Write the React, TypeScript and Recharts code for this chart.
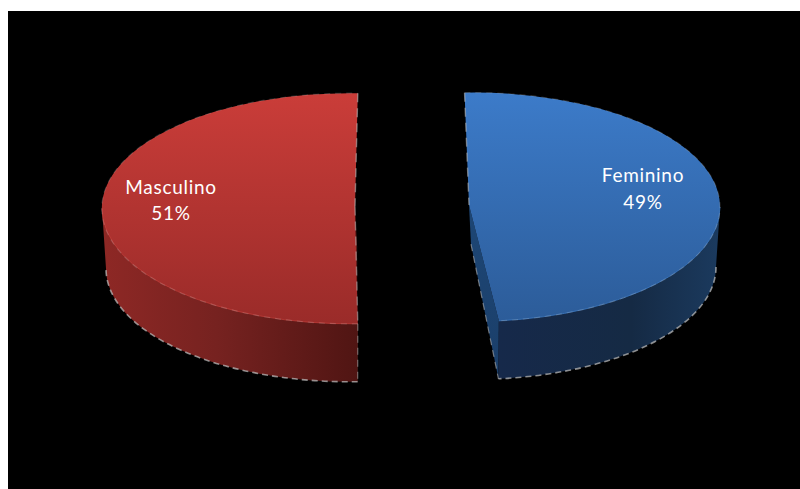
import React from 'react'
import { PieChart, Pie } from 'recharts'

const categories = ['Feminino', 'Masculino']
const shares = [49, 51]

const femininoData = [{ name: categories[0], value: shares[0] }]
const masculinoData = [{ name: categories[1], value: shares[1] }]

const DEGREES_PER_POINT = 3.6
// Each half of the exploded pie has its own rotation, the sweep comes from the share
const femininoStart = 92.2
const masculinoStart = -88.2

const TILT = 0.465
const DEPTH = 60
const WALL_SHRINK = 4

type Shade = { top: string; wall: string; face: string; rim: string; apexShift: number; lowerEdge: number }

const shades: Record<string, Shade> = {
  Feminino: { top: 'url(#femTop)', wall: 'url(#femWall)', face: 'url(#femFace)', rim: '#3f7cc4', apexShift: -5, lowerEdge: 0 },
  Masculino: { top: 'url(#mascTop)', wall: 'url(#mascWall)', face: '#5a1a17', rim: '#c43d39', apexShift: 5, lowerEdge: 0.5 },
}

const labelOffset: Record<string, { x: number; y: number }> = {
  Feminino: { x: 169, y: -25 },
  Masculino: { x: -179, y: -15 },
}

const rad = (a: number) => (a * Math.PI) / 180

const Slice3D = (props: any) => {
  const { cx, cy, outerRadius, startAngle, endAngle, payload } = props
  const name = payload?.name ?? props.name
  const shade = shades[name]
  const rx = outerRadius
  const ry = outerRadius * TILT
  const lrx = rx - WALL_SHRINK
  const lry = ry - 2
  const lcy = cy + DEPTH

  const top = (a: number) => [cx + rx * Math.cos(rad(a)), cy - ry * Math.sin(rad(a))]
  const low = (a: number) => [cx + lrx * Math.cos(rad(a)), lcy - lry * Math.sin(rad(a))]
  const pair = (p: number[]) => `${p[0].toFixed(2)} ${p[1].toFixed(2)}`

  const hi = Math.max(startAngle, endAngle)
  const lo = Math.min(startAngle, endAngle)
  const large = hi - lo > 180 ? 1 : 0

  // perspective pulls the apex towards the chord of the two straight edges
  const apexX = cx + shade.apexShift
  const apexTop = `${apexX} ${cy - 2}`

  // only the front half of the rim shows a wall
  const wallHi = Math.min(hi, 0)
  const wallLo = Math.max(lo, -180)
  const topArc = `M${pair(top(hi))} A${rx} ${ry} 0 ${large} 1 ${pair(top(lo))}`
  const lowArc = `M${pair(low(wallHi))} A${lrx} ${lry} 0 0 1 ${pair(low(wallLo))}`
  const wallPath =
    `M${pair(top(wallHi))} A${rx} ${ry} 0 0 1 ${pair(top(wallLo))} ` +
    `L${pair(low(wallLo))} A${lrx} ${lry} 0 0 0 ${pair(low(wallHi))} Z`
  const rimLine = `M${pair(top(wallHi))} A${rx} ${ry} 0 0 1 ${pair(top(wallLo))}`

  // cut face at whichever straight edge falls in the front half
  const cut = lo > -180 && lo < 0 ? lo : hi
  const back = cut === lo ? hi : lo
  const apexLow = [apexX + 2, cy + DEPTH * 0.62]
  const facePath = `M${apexTop} L${pair(top(cut))} L${pair(low(cut))} L${pair(apexLow)} Z`
  const backEdge = `M${pair(top(back))} L${apexTop}`
  const frontEdge = `M${apexTop} L${pair(top(cut))}`
  const cutEdge = `M${pair(apexLow)} L${pair(low(cut))}`
  const wallEdge = `M${pair(top(cut))} L${pair(low(cut))}`

  return (
    <g>
      <path d={facePath} fill={shade.face} />
      <path d={wallPath} fill={shade.wall} />
      <path d={`${topArc} L${apexTop} Z`} fill={shade.top} />
      <path d={rimLine} fill="none" stroke={shade.rim} strokeWidth={1} opacity={0.8} />
      <path d={lowArc} fill="none" stroke="#c4c4c4" strokeWidth={1.6} strokeDasharray="6 4" opacity={0.7} />
      <path d={topArc} fill="none" stroke="#c4c4c4" strokeWidth={1.2} strokeDasharray="6 5" opacity={0.22} />
      <path d={backEdge} fill="none" stroke="#c4c4c4" strokeWidth={1.4} strokeDasharray="9 6" opacity={0.55} />
      <path d={frontEdge} fill="none" stroke="#c4c4c4" strokeWidth={1.4} strokeDasharray="9 6" opacity={shade.lowerEdge} />
      <path d={wallEdge} fill="none" stroke="#c4c4c4" strokeWidth={1.2} strokeDasharray="7 5" opacity={shade.lowerEdge} />
      <path d={cutEdge} fill="none" stroke="#c4c4c4" strokeWidth={1.2} strokeDasharray="7 5" opacity={0.55 - shade.lowerEdge} />
    </g>
  )
}

const SliceLabel = (props: any) => {
  const { cx, cy, name, value } = props
  const off = labelOffset[name]
  const x = cx + off.x
  const y = cy + off.y
  return (
    <text
      x={x}
      y={y}
      textAnchor="middle"
      fill="#ffffff"
      fontFamily="Lato, sans-serif"
      fontSize={19}
      letterSpacing={0.7}
    >
      <tspan x={x}>{name}</tspan>
      <tspan x={x} dy={26.5}>{`${value}%`}</tspan>
    </text>
  )
}

export default function App() {
  return (
    <div style={{ position: 'absolute', left: 0, top: 0, width: 800, height: 489, background: '#ffffff', overflow: 'hidden' }}>
      <div style={{ position: 'absolute', left: 8, top: 11, right: 0, bottom: 0, background: '#000000' }} />
      <div style={{ position: 'absolute', left: 0, top: 0 }}>
        <PieChart width={800} height={489} margin={{ top: 0, right: 0, bottom: 0, left: 0 }}>
          <defs>
            <linearGradient id="mascTop" x1="0" y1="0" x2="0" y2="1">
              <stop offset="0%" stopColor="#ca3d39" />
              <stop offset="100%" stopColor="#9a2b29" />
            </linearGradient>
            <linearGradient id="mascWall" x1="0" y1="0" x2="1" y2="0">
              <stop offset="0%" stopColor="#8e2825" />
              <stop offset="45%" stopColor="#762220" />
              <stop offset="100%" stopColor="#501513" />
            </linearGradient>
            <linearGradient id="femTop" x1="0" y1="0" x2="0" y2="1">
              <stop offset="0%" stopColor="#3c7bc9" />
              <stop offset="100%" stopColor="#2c5c99" />
            </linearGradient>
            <linearGradient id="femWall" x1="0" y1="0" x2="1" y2="0">
              <stop offset="0%" stopColor="#16294a" />
              <stop offset="60%" stopColor="#152a44" />
              <stop offset="100%" stopColor="#1b3a5e" />
            </linearGradient>
            <linearGradient id="femFace" x1="0" y1="0" x2="0" y2="1">
              <stop offset="0%" stopColor="#1d4675" />
              <stop offset="100%" stopColor="#1b3f6a" />
            </linearGradient>
          </defs>
          <Pie
            data={femininoData}
            dataKey="value"
            nameKey="name"
            cx={474}
            cy={207}
            outerRadius={246}
            startAngle={femininoStart}
            endAngle={femininoStart - shares[0] * DEGREES_PER_POINT}
            stroke="none"
            shape={Slice3D}
            label={SliceLabel}
            labelLine={false}
            isAnimationActive={false}
          />
          <Pie
            data={masculinoData}
            dataKey="value"
            nameKey="name"
            cx={350}
            cy={208.5}
            outerRadius={248}
            startAngle={masculinoStart}
            endAngle={masculinoStart - shares[1] * DEGREES_PER_POINT}
            stroke="none"
            shape={Slice3D}
            label={SliceLabel}
            labelLine={false}
            isAnimationActive={false}
          />
        </PieChart>
      </div>
    </div>
  )
}
